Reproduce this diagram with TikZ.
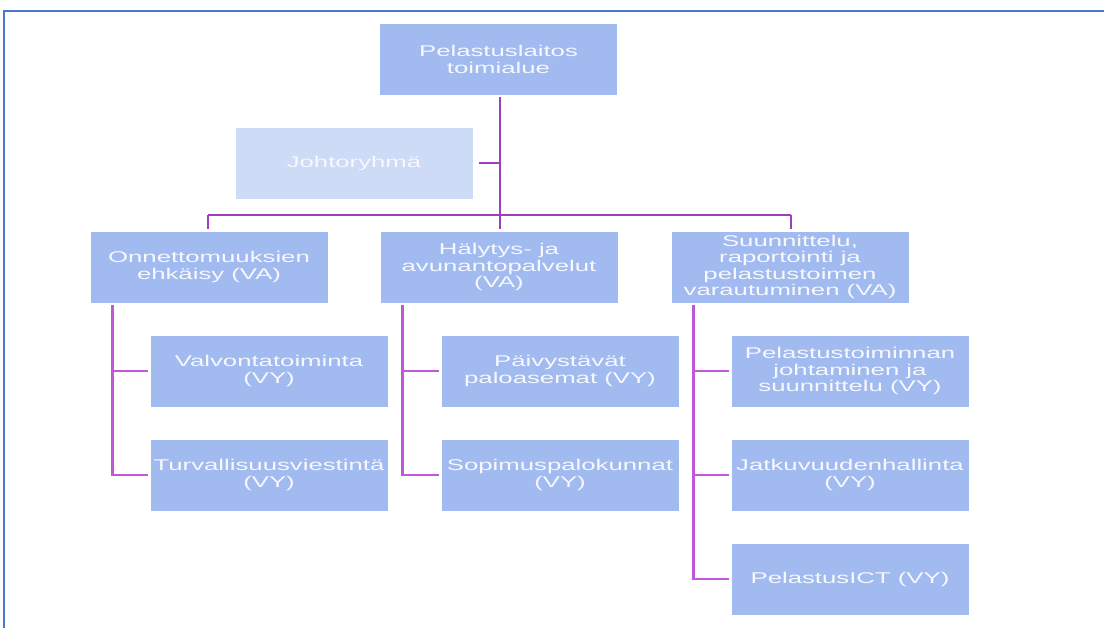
\documentclass[tikz,border=0pt]{standalone}
\usepackage{fontspec}
\setmainfont{Liberation Sans}[FakeStretch=1.65]
\definecolor{boxfill}{HTML}{A1BAEF}
\definecolor{lightfill}{HTML}{CDDBF6}
\definecolor{linetop}{HTML}{9E40BE}
\definecolor{linelow}{HTML}{C058D8}
\definecolor{frameblue}{HTML}{4A78CC}
\definecolor{txt}{HTML}{F6F8FD}
\tikzset{
  orgbox/.style={rectangle, fill=boxfill, draw=none, minimum width=177.75pt, minimum height=53.25pt,
    inner sep=0pt, align=center, text=txt, font=\fontsize{11.7}{12.3}\selectfont},
  lightbox/.style={orgbox, fill=lightfill},
  topline/.style={draw=linetop, line width=2.1pt},
  lowline/.style={draw=linelow, line width=2.1pt},
}
\begin{document}
\begin{tikzpicture}[x=0.75pt,y=-0.75pt]
\useasboundingbox (0,0) rectangle (1104,628);
% frame
\draw[frameblue, line width=1.3pt] (4,628) -- (4,11) -- (1104,11);
% nodes
\node[orgbox] (top) at (498.5,59.5) {Pelastuslaitos\\toimialue};
\node[lightbox] (johto) at (354,163) {Johtoryhmä};
\node[orgbox] (a) at (209,267) {Onnettomuuksien\\ehkäisy (VA)};
\node[orgbox] (b) at (499,267) {Hälytys- ja\\avunantopalvelut\\(VA)};
\node[orgbox] (c) at (790,267) {Suunnittelu,\\raportointi ja\\pelastustoimen\\varautuminen (VA)};
\node[orgbox] (a1) at (269,371) {Valvontatoiminta\\(VY)};
\node[orgbox] (a2) at (269,475) {Turvallisuusviestintä\\(VY)};
\node[orgbox] (b1) at (560,371) {Päivystävät\\paloasemat (VY)};
\node[orgbox] (b2) at (560,475) {Sopimuspalokunnat\\(VY)};
\node[orgbox] (c1) at (850,371) {Pelastustoiminnan\\johtaminen ja\\suunnittelu (VY)};
\node[orgbox] (c2) at (850,475) {Jatkuvuudenhallinta\\(VY)};
\node[orgbox] (c3) at (850,579) {PelastusICT (VY)};
% connectors
\coordinate (bus) at (500,215);
\coordinate (busl) at (208,215);
\coordinate (busr) at (791,215);
\draw[topline] ([yshift=-1.5pt]top.south -| bus) -- (bus);
\draw[topline, shorten <=4.5pt] (johto.east) -- (johto.east -| bus);
\draw[topline] (busl) -- (busr);
\draw[topline, shorten >=2pt] (busl) -- (busl |- a.north);
\draw[topline, shorten >=2pt] (bus) -- (bus |- b.north);
\draw[topline, shorten >=2pt] (busr) -- (busr |- c.north);
% lower connectors
\draw[lowline, shorten >=1.5pt] ([xshift=16.5pt,yshift=-1.5pt]a.south west) |- (a2.west);
\draw[lowline, shorten >=1.5pt] ([xshift=16.5pt]a.south west |- a1.west) -- (a1.west);
\draw[lowline, shorten >=1.5pt] ([xshift=16.5pt,yshift=-1.5pt]b.south west) |- (b2.west);
\draw[lowline, shorten >=1.5pt] ([xshift=16.5pt]b.south west |- b1.west) -- (b1.west);
\draw[lowline, shorten >=1.5pt] ([xshift=16.5pt,yshift=-1.5pt]c.south west) |- (c3.west);
\draw[lowline, shorten >=1.5pt] ([xshift=16.5pt]c.south west |- c1.west) -- (c1.west);
\draw[lowline, shorten >=1.5pt] ([xshift=16.5pt]c.south west |- c2.west) -- (c2.west);
\end{tikzpicture}
\end{document}
